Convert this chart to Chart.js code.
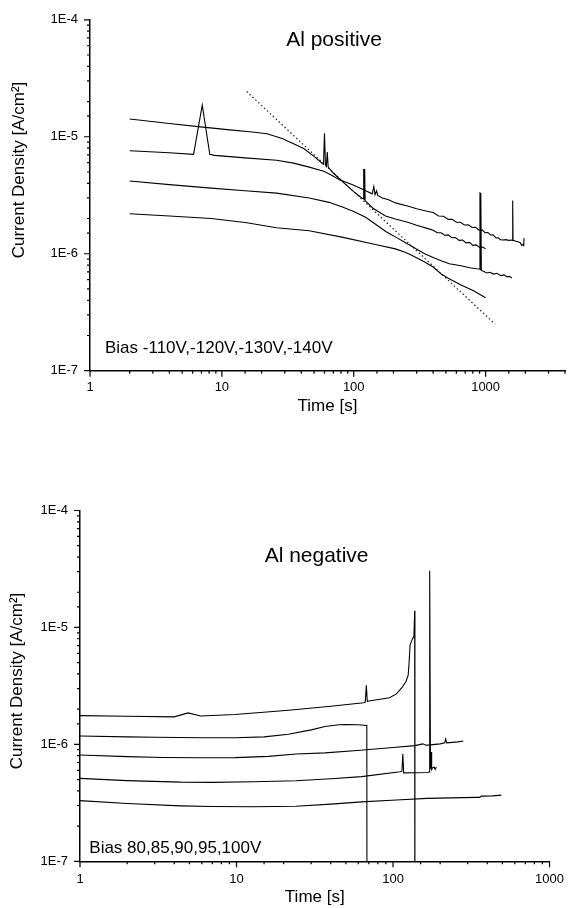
<!DOCTYPE html>
<html>
<head>
<meta charset="utf-8">
<script src="https://cdn.jsdelivr.net/npm/chart.js@4.4.1/dist/chart.umd.min.js"></script>
<style>
  html, body { margin: 0; padding: 0; background: #fff; }
  body { width: 574px; height: 908px; position: relative; overflow: hidden; }
  canvas { position: absolute; left: 0; }
  #posChart { top: 0; }
  #negChart { top: 430px; }
</style>
</head>
<body>
<canvas id="posChart" width="574" height="430"></canvas>
<canvas id="negChart" width="574" height="478"></canvas>
<script>
const FONT = "'Liberation Sans', Arial, Helvetica, sans-serif";

// ---- Al positive: time [s] / current density [A/cm2] ----
const posTimeA = [2, 4, 6.6, 12, 17, 22, 26, 29, 32, 36, 42, 50, 57, 59, 60, 61, 62, 63, 64, 70, 83, 100, 115,
  118, 119, 120, 121, 122, 140, 174, 207, 260, 300, 366, 400, 430, 460, 490, 520, 555, 590, 630, 670,
  710, 755, 800, 850, 900, 950, 1000];
const posJA = [1.42e-5, 1.3e-5, 1.22e-5, 1.14e-5, 1.1e-5, 1.06e-5, 1.0e-5, 9.6e-6, 9.1e-6, 8.6e-6, 7.9e-6, 6.8e-6, 6.0e-6,
  5.8e-6, 1.07e-5, 5.8e-6, 5.6e-6, 7.4e-6, 5.5e-6, 4.9e-6, 4.1e-6, 3.4e-6, 3.0e-6,
  2.95e-6, 5.3e-6, 2.9e-6, 5.3e-6, 2.85e-6, 2.45e-6, 2.1e-6, 1.98e-6, 1.85e-6, 1.75e-6,
  1.64e-6, 1.59e-6, 1.51e-6, 1.51e-6, 1.44e-6, 1.45e-6, 1.37e-6, 1.375e-6, 1.3e-6, 1.31e-6,
  1.24e-6, 1.25e-6, 1.18e-6, 1.19e-6, 1.13e-6, 1.14e-6, 1.1e-6];

const posTimeB = [2, 4, 6.1, 7.1, 8.1, 8.8, 15, 26, 35, 46, 60, 70, 78, 98, 120, 138, 142, 145, 149, 152, 165,
  184, 207, 260, 300, 366, 400, 440, 480, 520, 560, 600, 645, 690, 740, 790, 840, 890, 940, 990, 1040,
  1090, 1140, 1200, 1250, 1294, 1350, 1420, 1500, 1580, 1595, 1605, 1615, 1700, 1824, 1880, 1932, 1945, 1955];
const posJB = [7.6e-6, 7.3e-6, 7.07e-6, 1.86e-5, 7.07e-6, 6.93e-6, 6.6e-6, 6.3e-6, 5.95e-6, 5.5e-6, 5.05e-6,
  4.6e-6, 4.28e-6, 3.88e-6, 3.5e-6, 3.25e-6, 3.76e-6, 3.2e-6, 3.45e-6, 3.15e-6, 3.0e-6,
  2.9e-6, 2.72e-6, 2.55e-6, 2.42e-6, 2.3e-6, 2.25e-6, 2.1e-6, 2.09e-6, 1.965e-6, 1.97e-6,
  1.857e-6, 1.857e-6, 1.763e-6, 1.766e-6, 1.675e-6, 1.685e-6, 1.59e-6, 1.6e-6, 1.512e-6, 1.52e-6,
  1.448e-6, 1.45e-6, 1.364e-6, 1.37e-6, 1.32e-6, 1.31e-6, 1.32e-6, 1.3e-6, 1.31e-6, 1.3e-6,
  2.85e-6, 1.3e-6, 1.28e-6, 1.25e-6, 1.18e-6, 1.21e-6, 1.16e-6, 1.36e-6];

const posTimeC = [2, 4, 8.3, 15, 26, 46, 65, 83, 100, 123, 150, 175, 210, 245, 290, 345, 400, 460, 530, 650,
  760, 850, 900, 906, 912, 920, 928, 970, 1020, 1080, 1150, 1220, 1300, 1380, 1450, 1520, 1580];
const posJC = [4.19e-6, 3.9e-6, 3.64e-6, 3.45e-6, 3.3e-6, 3.0e-6, 2.75e-6, 2.5e-6, 2.3e-6, 2.05e-6,
  1.75e-6, 1.55e-6, 1.38e-6, 1.25e-6, 1.12e-6, 1.0e-6, 9.3e-7, 8.7e-7, 8.2e-7, 7.9e-7,
  7.6e-7, 7.45e-7, 7.4e-7, 3.35e-6, 7.3e-7, 3.3e-6, 7.2e-7, 7.05e-7, 6.85e-7, 6.95e-7,
  6.7e-7, 6.8e-7, 6.5e-7, 6.6e-7, 6.35e-7, 6.4e-7, 6.2e-7];

const posTimeD = [2, 4, 8.3, 15, 26, 46, 83, 146, 207, 245, 275, 345, 400, 461, 516, 580, 650, 730, 818, 900, 1000];
const posJD = [2.2e-6, 2.1e-6, 2.0e-6, 1.85e-6, 1.67e-6, 1.57e-6, 1.38e-6, 1.2e-6, 1.1e-6, 1.03e-6,
  9.7e-7, 8.5e-7, 7.7e-7, 6.7e-7, 6.2e-7, 5.8e-7, 5.4e-7, 5.1e-7, 4.8e-7, 4.5e-7, 4.2e-7];

// dotted power-law guide line
const posFitT = [15.4, 1180];
const posFitJ = [2.44e-5, 2.5e-7];

// ---- Al negative ----
const negTimeA = [1, 2, 4, 4.9, 5.9, 9.8, 21.5, 40, 65, 66.5, 67.5, 68.5, 70, 95, 105, 114, 121, 125, 127, 128.5,
  132.6, 136, 137.5, 138];
const negJA = [1.76e-6, 1.74e-6, 1.72e-6, 1.86e-6, 1.75e-6, 1.8e-6, 1.96e-6, 2.12e-6, 2.27e-6, 2.3e-6,
  3.2e-6, 2.33e-6, 2.35e-6, 2.5e-6, 2.7e-6, 3.05e-6, 3.45e-6, 3.9e-6, 5.3e-6, 7.1e-6,
  7.9e-6, 8.4e-6, 1.39e-5, 1e-9];

const negTimeB = [1, 2, 3, 6, 9.8, 15, 21.5, 30, 36.8, 45, 50, 60, 68, 68.3];
const negJB = [1.18e-6, 1.16e-6, 1.15e-6, 1.14e-6, 1.14e-6, 1.16e-6, 1.22e-6, 1.33e-6, 1.42e-6, 1.47e-6,
  1.48e-6, 1.47e-6, 1.45e-6, 1e-9];

const negTimeC = [1, 2, 3.4, 6, 9.8, 16, 24, 36.8, 62, 100, 138, 150, 155, 162, 173, 200, 214, 217, 220, 240, 260, 281];
const negJC = [8.1e-7, 7.85e-7, 7.72e-7, 7.68e-7, 7.7e-7, 7.9e-7, 8.26e-7, 8.45e-7, 8.9e-7, 9.4e-7,
  9.75e-7, 1.0e-6, 1.01e-6, 9.85e-7, 9.9e-7, 1.01e-6, 1.03e-6, 1.11e-6, 1.03e-6, 1.04e-6, 1.05e-6, 1.07e-6];

const negTimeD = [1, 2, 4.4, 7, 12.8, 24, 40, 63, 111, 114, 115.5, 117, 166, 170, 171.5, 173.5, 175, 176.5, 179, 183, 186, 189];
const negJD = [5.12e-7, 4.9e-7, 4.75e-7, 4.73e-7, 4.79e-7, 4.88e-7, 5.08e-7, 5.3e-7, 5.83e-7, 5.9e-7,
  8.26e-7, 5.71e-7, 5.75e-7, 5.8e-7, 3.05e-5, 6.2e-7, 8.6e-7, 6.1e-7, 6.3e-7, 6.4e-7, 6.1e-7, 6.4e-7];

const negTimeE = [1, 2, 4.4, 7, 12.8, 24, 40, 63, 105, 165, 339, 358, 366, 377, 433, 492];
const negJE = [3.3e-7, 3.12e-7, 2.98e-7, 2.94e-7, 2.93e-7, 2.96e-7, 3.08e-7, 3.22e-7, 3.34e-7, 3.45e-7,
  3.52e-7, 3.52e-7, 3.61e-7, 3.61e-7, 3.63e-7, 3.68e-7];

const isDecade = (v) => {
  const e = Math.log10(v);
  return Math.abs(e - Math.round(e)) < 1e-6;
};
const pts = (ts, js) => ts.map((t, i) => ({ x: t, y: js[i] }));

// outward tick marks: long at decades, short in between
const tickMarks = {
  id: "tickMarks",
  afterDraw(chart) {
    const { ctx, chartArea: a, scales } = chart;
    ctx.save();
    ctx.strokeStyle = "#000";
    ctx.lineWidth = 1.2;
    ctx.beginPath();
    scales.x.ticks.forEach((t) => {
      const px = scales.x.getPixelForValue(t.value);
      ctx.moveTo(px, a.bottom);
      ctx.lineTo(px, a.bottom + (isDecade(t.value) ? 6 : 3));
    });
    scales.y.ticks.forEach((t) => {
      const py = scales.y.getPixelForValue(t.value);
      ctx.moveTo(a.left, py);
      ctx.lineTo(a.left - (isDecade(t.value) ? 6 : 3), py);
    });
    ctx.stroke();
    ctx.restore();
  },
};

// free text: panel title, bias note, y title
const notes = {
  id: "notes",
  afterDraw(chart, args, opts) {
    const ctx = chart.ctx;
    (opts.items || []).forEach((n) => {
      ctx.save();
      ctx.font = n.font;
      ctx.fillStyle = "#000";
      ctx.textAlign = n.align || "left";
      ctx.textBaseline = n.baseline || "alphabetic";
      ctx.translate(n.x, n.y);
      if (n.rotate) ctx.rotate(n.rotate);
      ctx.fillText(n.text, 0, 0);
      ctx.restore();
    });
  },
};

function curve(data) {
  return {
    data,
    borderColor: "#000",
    borderWidth: 1.1,
    pointRadius: 0,
    tension: 0,
    fill: false,
  };
}

function buildChart(id, cfg) {
  return new Chart(document.getElementById(id), {
    type: "line",
    data: { datasets: cfg.datasets },
    plugins: [tickMarks, notes],
    options: {
      responsive: false,
      animation: false,
      devicePixelRatio: 1,
      events: [],
      layout: { padding: { top: cfg.padTop, right: cfg.padRight, left: 0, bottom: 0 } },
      plugins: {
        legend: { display: false },
        tooltip: { enabled: false },
        notes: { items: cfg.notes },
      },
      scales: {
        x: {
          type: "logarithmic",
          min: 1,
          max: cfg.xMax,
          grid: { display: false, drawTicks: false },
          border: { display: true, color: "#000", width: 1.5 },
          ticks: {
            color: "#000",
            font: { family: FONT, size: 13 },
            padding: cfg.xTickPad,
            autoSkip: false,
            maxRotation: 0,
            callback: (v) => (isDecade(v) ? String(Math.round(v)) : ""),
          },
          title: {
            display: true,
            text: "Time [s]",
            color: "#000",
            font: { family: FONT, size: 17 },
            padding: { top: 0, bottom: cfg.xTitlePad },
          },
          afterFit: (s) => { s.height = cfg.xAxisH; },
        },
        y: {
          type: "logarithmic",
          min: 1e-7,
          max: 1e-4,
          grid: { display: false, drawTicks: false },
          border: { display: true, color: "#000", width: 1.5 },
          ticks: {
            color: "#000",
            font: { family: FONT, size: 13 },
            padding: 12,
            autoSkip: false,
            callback: (v) => (isDecade(v) ? "1E" + Math.round(Math.log10(v)) : ""),
          },
          afterFit: (s) => { s.width = cfg.yAxisW; },
        },
      },
    },
  });
}

window.addEventListener("DOMContentLoaded", () => {
  const fit = curve(pts(posFitT, posFitJ));
  fit.borderColor = "#222";
  fit.borderWidth = 1.2;
  fit.borderDash = [1.5, 2.5];

  buildChart("posChart", {
    datasets: [
      curve(pts(posTimeA, posJA)),
      curve(pts(posTimeB, posJB)),
      curve(pts(posTimeC, posJC)),
      curve(pts(posTimeD, posJD)),
      fit,
    ],
    xMax: 4000,
    padTop: 13.9,
    padRight: 1.7,
    xAxisH: 59.3,
    yAxisW: 90,
    xTickPad: 9,
    xTitlePad: 13,
    notes: [
      { text: "Al positive", x: 334, y: 45.7, align: "center", font: "21px " + FONT },
      { text: "Bias -110V,-120V,-130V,-140V", x: 105, y: 353, font: "17px " + FONT },
      { text: "Current Density [A/cm²]", x: 19, y: 170, align: "center", baseline: "middle",
        rotate: -Math.PI / 2, font: "17px " + FONT },
    ],
  });

  buildChart("negChart", {
    datasets: [
      curve(pts(negTimeA, negJA)),
      curve(pts(negTimeB, negJB)),
      curve(pts(negTimeC, negJC)),
      curve(pts(negTimeD, negJD)),
      curve(pts(negTimeE, negJE)),
    ],
    xMax: 1000,
    padTop: 80.5,
    padRight: 16.3,
    xAxisH: 46.7,
    yAxisW: 80,
    xTickPad: 10,
    xTitlePad: 0,
    notes: [
      { text: "Al negative", x: 316.6, y: 131.7, align: "center", font: "21px " + FONT },
      { text: "Bias 80,85,90,95,100V", x: 89.3, y: 423.3, font: "17px " + FONT },
      { text: "Current Density [A/cm²]", x: 17, y: 251, align: "center", baseline: "middle",
        rotate: -Math.PI / 2, font: "17px " + FONT },
    ],
  });
});
</script>
</body>
</html>
